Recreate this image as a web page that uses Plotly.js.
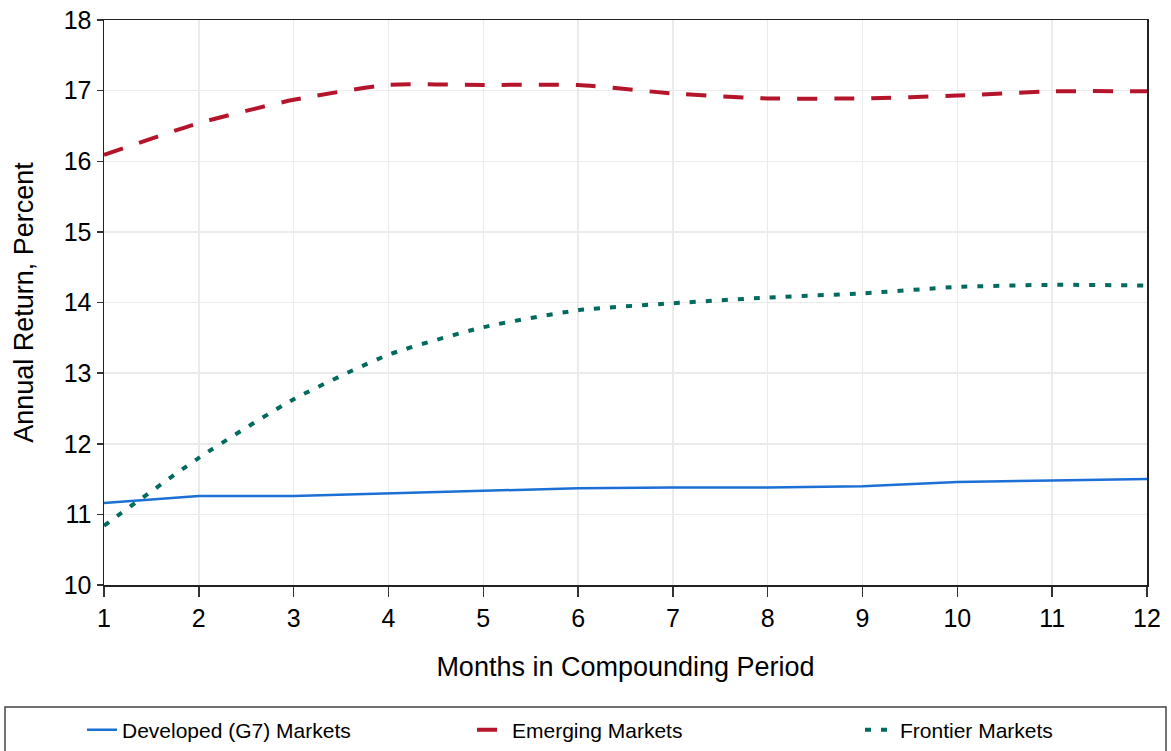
<!DOCTYPE html>
<html>
<head>
<meta charset="utf-8">
<script src="https://cdn.plot.ly/plotly-3.0.1.min.js"></script>
<style>html,body{margin:0;padding:0;background:#fff;}#chart{width:1171px;height:751px;}</style>
</head>
<body>
<div id="chart"></div>
<script>
var months = [1,2,3,4,5,6,7,8,9,10,11,12];
var developed = [11.16,11.26,11.26,11.30,11.33,11.37,11.38,11.38,11.40,11.46,11.48,11.50];
var emerging = [16.09,16.54,16.87,17.08,17.08,17.08,16.96,16.89,16.89,16.93,16.99,16.99];
var frontier = [10.84,11.80,12.63,13.26,13.65,13.89,13.99,14.07,14.13,14.22,14.25,14.24];
var seriesNames = ["Developed (G7) Markets","Emerging Markets","Frontier Markets"];
var yTicks = [10,11,12,13,14,15,16,17,18];

var font = "Liberation Sans, Arial, sans-serif";
var traces = [
  {x: months, y: developed, name: seriesNames[0], mode: "lines", legend: "legend",
   line: {color: "#1c6fd4", width: 2.5}},
  {x: months, y: emerging, name: seriesNames[1], mode: "lines", legend: "legend2",
   line: {color: "#b5152b", width: 4, dash: "20px,17px", shape: "spline", smoothing: 0.6}},
  {x: months, y: frontier, name: seriesNames[2], mode: "lines", legend: "legend3",
   line: {color: "#006a5e", width: 4, dash: "6px,10px", shape: "spline", smoothing: 0.6}}
];
function leg(xpx){
  return {orientation: "h", xref: "container", yref: "container", x: xpx/1171, xanchor: "left",
          y: 1-(730/751), yanchor: "middle", bgcolor: "rgba(0,0,0,0)", borderwidth: 0,
          font: {family: font, size: 21, color: "#000"}};
}
var layout = {
  width: 1171, height: 751,
  margin: {l: 104, r: 24, t: 20, b: 166},
  paper_bgcolor: "#fff", plot_bgcolor: "#fff",
  font: {family: font, color: "#000"},
  showlegend: true,
  legend: leg(82), legend2: leg(472), legend3: leg(860),
  xaxis: {range: [1,12], tickmode: "array", tickvals: months, ticks: "outside", ticklen: 10,
          tickcolor: "#333", tickwidth: 1.5, showline: true, linecolor: "#222", linewidth: 1.5, mirror: true,
          showgrid: true, gridcolor: "#ebebeb", gridwidth: 1.5, zeroline: false,
          tickfont: {family: font, size: 25, color: "#000"},
          title: {text: "Months in Compounding Period", font: {family: font, size: 27, color: "#000"}, standoff: 26}},
  yaxis: {range: [10,18], tickmode: "array", tickvals: yTicks, ticks: "outside", ticklen: 6,
          tickcolor: "#333", tickwidth: 1.5, showline: true, linecolor: "#222", linewidth: 1.5, mirror: true,
          showgrid: true, gridcolor: "#ebebeb", gridwidth: 1.5, zeroline: false,
          tickfont: {family: font, size: 25, color: "#000"},
          title: {text: "Annual Return, Percent", font: {family: font, size: 27, color: "#000"}, standoff: 22}},
  shapes: [{type: "rect", xref: "paper", yref: "paper",
            x0: (5-104)/1043, x1: (1166-104)/1043, y0: (585-707)/565, y1: (585-760)/565,
            line: {color: "#444", width: 1.5}, fillcolor: "rgba(0,0,0,0)"}]
};
Plotly.newPlot("chart", traces, layout, {displayModeBar: false, staticPlot: true});
</script>
</body>
</html>
